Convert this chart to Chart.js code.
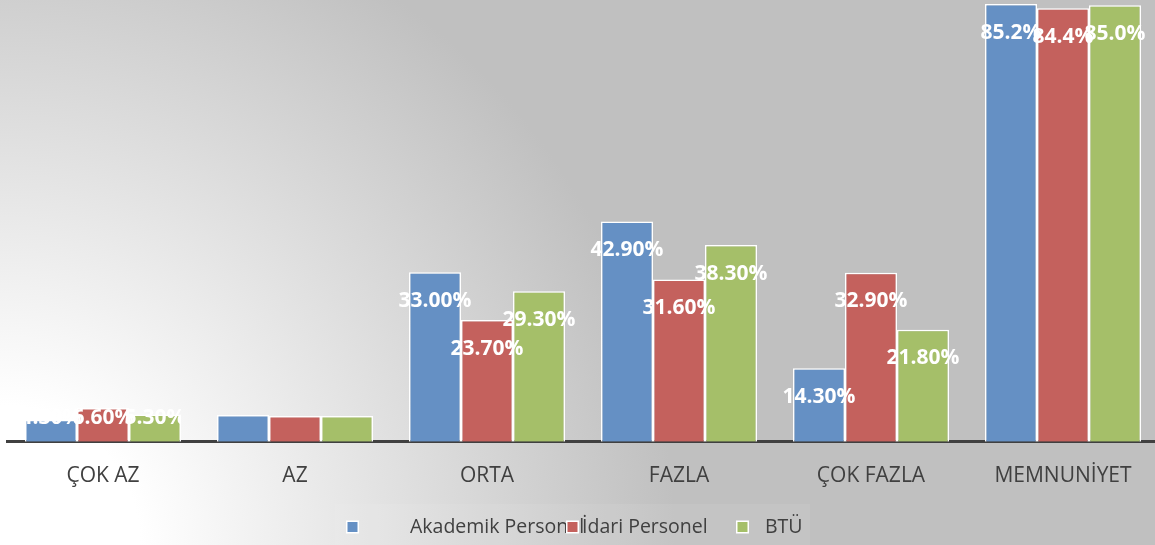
<!DOCTYPE html>
<html>
<head>
<meta charset="utf-8">
<script src="https://cdn.jsdelivr.net/npm/chart.js@4/dist/chart.umd.min.js"></script>
<style>
  html, body { margin: 0; padding: 0; overflow: hidden; width: 1155px; height: 545px; }
  #wrap { width: 1159px; height: 545px; }
</style>
</head>
<body>
<div id="wrap"><canvas id="c" width="1159" height="545"></canvas></div>
<script>
const categories = ['ÇOK AZ', 'AZ', 'ORTA', 'FAZLA', 'ÇOK FAZLA', 'MEMNUNİYET'];
const seriesNames = ['Akademik Personel', 'İdari Personel', 'BTÜ'];
const akademik = [4.3, 5.2, 33.0, 42.9, 14.3, 85.2];
const idari    = [6.6, 5.0, 23.7, 31.6, 32.9, 84.4];
const btu      = [5.3, 5.0, 29.3, 38.3, 21.8, 85.0];
// decimals shown in each category's value label (null = no label)
const labelDecimals = [2, null, 2, 2, 2, 1];
const colors = ['#6590c4', '#c4615d', '#a5bf69'];

const FONT = "'Open Sans', 'DejaVu Sans', sans-serif";

const bgPlugin = {
  id: 'bg',
  beforeDraw(chart) {
    const ctx = chart.ctx;
    const w = chart.width, h = chart.height;
    ctx.save();
    const g = ctx.createRadialGradient(0, h, 0, 0, h, 700);
    g.addColorStop(0, '#ffffff');
    g.addColorStop(0.2, '#ffffff');
    g.addColorStop(0.965, '#c0c0c0');
    g.addColorStop(1, '#c0c0c0');
    ctx.fillStyle = g;
    ctx.fillRect(0, 0, w, h);
    // faint legend frame fill
    ctx.fillStyle = 'rgba(255,255,255,0.07)';
    ctx.fillRect(335, 504, 475, 41);
    ctx.restore();
  }
};

const labelPlugin = {
  id: 'vlabels',
  afterDatasetsDraw(chart) {
    const ctx = chart.ctx;
    ctx.save();
    ctx.font = 'bold 21px ' + FONT;
    ctx.fillStyle = '#ffffff';
    ctx.textAlign = 'center';
    ctx.textBaseline = 'middle';
    const n = chart.data.datasets.length;
    chart.data.datasets.forEach((ds, i) => {
      const meta = chart.getDatasetMeta(i);
      meta.data.forEach((el, j) => {
        const d = labelDecimals[j];
        if (d === null || d === undefined) return;
        const txt = ds.data[j].toFixed(d) + '%';
        let y = el.y + 28.5;
        const maxY = el.base - 24;
        ctx.save();
        if (y > maxY) {
          y = maxY;
          const first = chart.getDatasetMeta(0).data[j];
          const last = chart.getDatasetMeta(n - 1).data[j];
          const x0 = first.x - first.width / 2;
          const x1 = last.x + last.width / 2;
          ctx.beginPath();
          ctx.rect(x0, 0, x1 - x0, el.base);
          ctx.clip();
        }
        ctx.fillText(txt, el.x, y);
        ctx.restore();
      });
    });
    ctx.restore();
  }
};

const legendPlugin = {
  id: 'customLegend',
  afterDraw(chart) {
    const ctx = chart.ctx;
    const slots = [{ sq: 346, tx: 410 }, { sq: 566, tx: 582 }, { sq: 736, tx: 765 }];
    const cy = 527;
    ctx.save();
    ctx.font = '19.5px ' + FONT;
    ctx.textBaseline = 'middle';
    ctx.textAlign = 'left';
    chart.data.datasets.forEach((ds, i) => {
      const s = slots[i];
      ctx.fillStyle = '#404040';
      ctx.fillText(ds.label, s.tx, cy);
      ctx.fillStyle = '#ffffff';
      ctx.fillRect(s.sq, cy - 6.5, 13, 13);
      ctx.fillStyle = ds.backgroundColor;
      ctx.fillRect(s.sq + 1.5, cy - 5, 10, 10);
    });
    ctx.restore();
  }
};

const seriesValues = [akademik, idari, btu];

new Chart(document.getElementById('c'), {
  type: 'bar',
  data: {
    labels: categories,
    datasets: seriesNames.map((name, i) => ({
      label: name,
      data: seriesValues[i],
      backgroundColor: colors[i],
      borderColor: '#ffffff',
      borderWidth: 1.5,
      categoryPercentage: 0.8125,
      barPercentage: 1.0
    }))
  },
  options: {
    responsive: false,
    animation: false,
    devicePixelRatio: 1,
    layout: { padding: { top: 0, left: 7, right: 0, bottom: 34 } },
    plugins: {
      legend: { display: false },
      tooltip: { enabled: false }
    },
    scales: {
      x: {
        grid: { display: false, drawTicks: false },
        border: { display: true, color: '#404040', width: 3 },
        ticks: {
          color: '#404040',
          font: { family: FONT, size: 21 },
          padding: 22,
          maxRotation: 0,
          autoSkip: false
        }
      },
      y: {
        display: false,
        min: 0,
        max: 86
      }
    }
  },
  plugins: [bgPlugin, labelPlugin, legendPlugin]
});
</script>
</body>
</html>
